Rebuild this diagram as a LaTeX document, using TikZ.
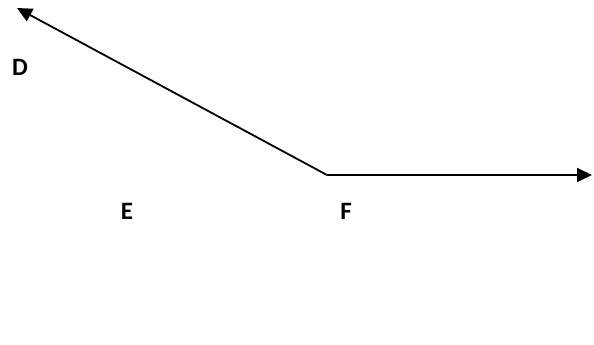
\documentclass[tikz,border=0pt]{standalone}
\usepackage{fontspec}
\setmainfont{Carlito}
\usepackage{tikz}
\usetikzlibrary{arrows.meta}

\begin{document}
\begin{tikzpicture}[x=1pt, y=-1pt]
        \useasboundingbox (0, 0) rectangle (594, 345);
        \coordinate (vertex) at (327, 175);
        \coordinate (endD) at (17, 8);
        \coordinate (endF) at (592, 175);
        \draw[line width=1.8pt, -{Triangle[length=15pt, width=14pt]}] (vertex) -- (endD);
        \draw[line width=1.8pt, -{Triangle[length=15pt, width=14pt]}] (vertex) -- (endF);
        \node[font = {\fontsize{25}{30}\selectfont\bfseries}, black] (labD) at (20, 67) {D};
        \node[font = {\fontsize{25}{30}\selectfont\bfseries}, black] (labE) at (127, 211) {E};
        \node[font = {\fontsize{25}{30}\selectfont\bfseries}, black] (labF) at (346, 211) {F};
    \end{tikzpicture}
\end{document}
